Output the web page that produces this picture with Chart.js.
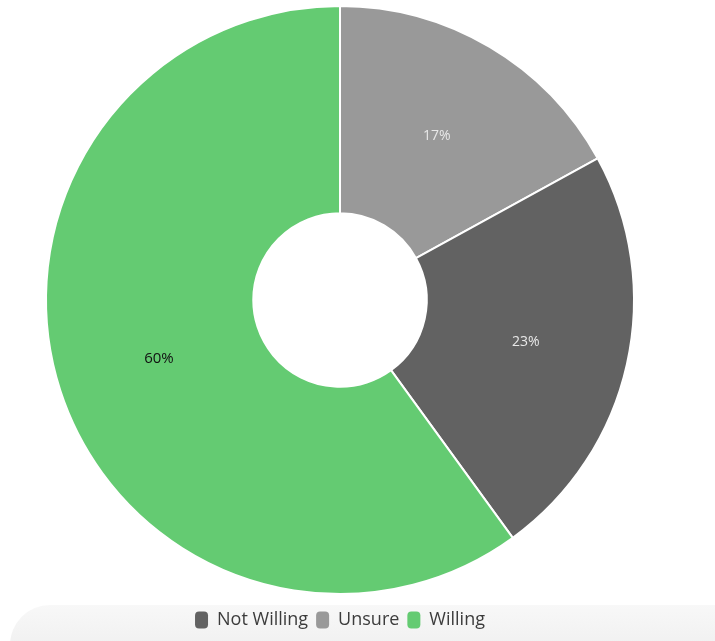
<!DOCTYPE html>
<html>
<head>
<meta charset="utf-8">
<script src="https://cdn.jsdelivr.net/npm/chart.js@4"></script>
<style>
  html, body { margin: 0; padding: 0; background: #ffffff; }
  body { width: 715px; height: 641px; position: relative; overflow: hidden; }
  #band {
    position: absolute; left: 10px; top: 605px; width: 720px; height: 50px;
    border-radius: 40px 0 0 0;
    background: linear-gradient(to bottom, #f8f8f8, #efefef);
  }
  #wrap { position: absolute; left: 0; top: 0; width: 662px; height: 641px; }
</style>
</head>
<body>
<div id="band"></div>
<div id="wrap"><canvas id="grafico_pizza"></canvas></div>
<script>
// dados do gráfico (ordem no sentido horário a partir do topo)
const categorias = ["Unsure", "Not Willing", "Willing"];
const valores = [17, 23, 60];
const cores = ["#999999", "#626262", "#64cb72"];
const coresTexto = ["#e8e8e8", "#e8e8e8", "#111111"];
// ordem em que aparecem na legenda
const ordemLegenda = ["Not Willing", "Unsure", "Willing"];

// escreve a porcentagem no meio de cada fatia
const rotulosFatias = {
  id: "rotulosFatias",
  afterDatasetsDraw(chart) {
    const ctx = chart.ctx;
    const meta = chart.getDatasetMeta(0);
    ctx.save();
    ctx.textAlign = "center";
    ctx.textBaseline = "middle";
    meta.data.forEach(function (arco, i) {
      const pos = arco.tooltipPosition();
      ctx.font = (i === 2 ? "500 15px" : "14px") + " 'Open Sans', sans-serif";
      ctx.fillStyle = coresTexto[i];
      ctx.fillText(valores[i] + "%", pos.x, pos.y);
    });
    ctx.restore();
  },
};

// desce a legenda um pouco, sem mexer no tamanho do gráfico
const descerLegenda = {
  id: "descerLegenda",
  afterLayout(chart) {
    chart.legend.top += 8;
    chart.legend.bottom += 8;
  },
};

new Chart(document.getElementById("grafico_pizza"), {
  type: "doughnut",
  data: {
    labels: categorias,
    datasets: [
      {
        data: valores,
        backgroundColor: cores,
        borderColor: "#ffffff",
        borderWidth: 2,
      },
    ],
  },
  options: {
    responsive: true,
    maintainAspectRatio: false,
    animation: false,
    cutout: "29.5%",
    layout: {
      padding: { top: 5, left: 18, right: 0, bottom: 10 },
    },
    plugins: {
      tooltip: { enabled: false },
      legend: {
        position: "bottom",
        labels: {
          boxWidth: 13,
          boxHeight: 17,
          useBorderRadius: true,
          borderRadius: 4,
          padding: 8,
          color: "#3c3c3c",
          font: { family: "'Open Sans', sans-serif", size: 18 },
          generateLabels: function (chart) {
            const itens = Chart.overrides.doughnut.plugins.legend.labels.generateLabels(chart);
            itens.forEach(function (item) {
              item.lineWidth = 0;
              item.strokeStyle = item.fillStyle;
            });
            return itens;
          },
          sort: function (a, b) {
            return ordemLegenda.indexOf(a.text) - ordemLegenda.indexOf(b.text);
          },
        },
      },
    },
  },
  plugins: [rotulosFatias, descerLegenda],
});
</script>
</body>
</html>
